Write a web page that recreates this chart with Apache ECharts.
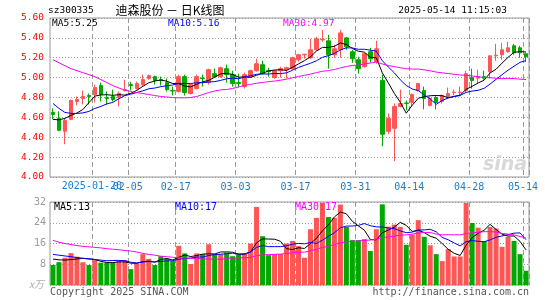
<!DOCTYPE html>
<html>
<head>
<meta charset="utf-8">
<script src="https://cdn.jsdelivr.net/npm/echarts@6/dist/echarts.min.js"></script>
<style>
html,body{margin:0;padding:0;background:#fff;}
#c{width:545px;height:300px;}
</style>
</head>
<body>
<div id="c"></div>
<script>
// ---- data ----
const dates = [
'2025-01-09','2025-01-10','2025-01-13','2025-01-14','2025-01-15','2025-01-16','2025-01-17',
'2025-01-20','2025-01-21','2025-01-22','2025-01-23','2025-01-24','2025-01-27',
'2025-02-05','2025-02-06','2025-02-07','2025-02-10','2025-02-11','2025-02-12','2025-02-13','2025-02-14',
'2025-02-17','2025-02-18','2025-02-19','2025-02-20','2025-02-21','2025-02-24','2025-02-25','2025-02-26','2025-02-27','2025-02-28',
'2025-03-03','2025-03-04','2025-03-05','2025-03-06','2025-03-07','2025-03-10','2025-03-11','2025-03-12','2025-03-13','2025-03-14',
'2025-03-17','2025-03-18','2025-03-19','2025-03-20','2025-03-21','2025-03-24','2025-03-25','2025-03-26','2025-03-27','2025-03-28',
'2025-03-31','2025-04-01','2025-04-02','2025-04-03','2025-04-07','2025-04-08','2025-04-09','2025-04-10','2025-04-11',
'2025-04-14','2025-04-15','2025-04-16','2025-04-17','2025-04-18','2025-04-21','2025-04-22','2025-04-23','2025-04-24','2025-04-25',
'2025-04-28','2025-04-29','2025-04-30','2025-05-06','2025-05-07','2025-05-08','2025-05-09','2025-05-12','2025-05-13','2025-05-14'
];
const opens = [
4.65,4.59,4.46,4.58,4.76,4.79,4.82,4.83,4.92,4.80,
4.81,4.80,4.87,4.93,4.89,4.93,4.99,5.01,4.98,4.95,
4.87,4.86,5.01,4.84,4.89,4.995,4.95,5.04,5.01,5.09,
5.03,4.95,4.91,5.01,5.07,5.13,5.07,5.00,5.07,5.08,
5.09,5.18,5.23,5.20,5.28,5.38,5.37,5.23,5.28,5.40,
5.26,5.18,5.11,5.26,5.16,4.97,4.46,4.49,4.71,4.745,
4.75,4.87,4.87,4.72,4.80,4.76,4.81,4.85,4.85,4.87,
5.00,4.995,5.01,5.06,5.22,5.23,5.26,5.32,5.30,5.24
];
const closes = [
4.63,4.47,4.57,4.77,4.78,4.81,4.81,4.90,4.83,4.79,
4.78,4.84,4.88,4.92,4.94,4.98,5.02,4.97,4.97,4.88,
4.865,5.01,4.85,4.93,5.01,4.99,5.08,5.01,5.10,5.03,
4.94,4.94,5.03,5.07,5.14,5.04,5.06,5.07,5.09,5.10,
5.20,5.23,5.235,5.28,5.39,5.385,5.23,5.29,5.45,5.31,
5.19,5.09,5.24,5.19,5.29,4.43,4.59,4.71,4.74,4.74,
4.83,4.94,4.79,4.79,4.75,4.82,4.84,4.855,4.855,5.04,
4.97,5.01,4.995,5.22,5.225,5.28,5.30,5.25,5.25,5.21
];
const lows = [
4.58,4.46,4.33,4.57,4.72,4.73,4.73,4.75,4.76,4.73,
4.76,4.71,4.86,4.87,4.88,4.91,4.98,4.93,4.92,4.86,
4.82,4.85,4.82,4.83,4.88,4.91,4.93,5.00,5.00,4.95,
4.91,4.90,4.89,5.00,5.06,5.03,5.01,4.99,5.00,4.99,
5.08,5.16,5.19,5.19,5.27,5.36,5.09,5.20,5.20,5.28,
5.15,5.04,5.10,5.15,5.14,4.31,4.43,4.16,4.70,4.67,
4.71,4.86,4.68,4.71,4.68,4.74,4.79,4.82,4.81,4.85,
4.89,4.94,4.98,4.99,5.17,5.18,5.25,5.23,5.20,5.16
];
const highs = [
4.69,4.66,4.59,4.78,4.81,4.87,4.84,4.93,4.95,4.86,
4.88,4.86,4.98,4.96,4.96,5.03,5.03,5.02,5.01,4.99,
4.91,5.03,5.03,4.94,5.03,5.03,5.09,5.09,5.11,5.13,
5.07,5.04,5.05,5.08,5.19,5.17,5.10,5.08,5.11,5.11,
5.21,5.24,5.24,5.39,5.41,5.48,5.43,5.33,5.48,5.41,
5.28,5.21,5.25,5.30,5.37,5.03,4.64,4.74,4.88,4.77,
4.84,4.94,4.91,4.81,4.82,4.83,4.90,4.88,4.91,5.07,
5.09,5.08,5.07,5.22,5.34,5.35,5.36,5.34,5.32,5.25
];
const volumes = [
7.7,8.8,10.5,12.3,10.9,8.8,7.7,9.6,8.6,8.6,
8.6,9.2,9.6,6.1,8.3,11.9,10.1,7.7,11.1,10.2,
9.2,15.1,12.2,8.1,12.2,11.9,15.7,11.9,11.9,12.5,
11.1,11.9,12.2,16.0,30.1,18.8,11.5,11.9,11.9,16.0,
17.0,15.0,10.5,21.5,25.9,31.7,26.2,25.9,31.0,22.4,
17.3,17.3,17.7,13.1,21.5,31.1,22.5,23.3,22.4,15.5,
19.5,25.0,18.6,15.3,11.9,9.2,13.8,11.0,11.0,31.6,
23.9,22.1,16.9,22.4,21.8,14.7,18.6,17.0,11.9,5.5
];
// moving-average values at the left edge (window reaches before the first day)
const priceMa5Start = [4.58,4.575,4.59,4.62];
const priceMa10Start = [4.74,4.69,4.65,4.64,4.64,4.645,4.66,4.69,4.71];
const priceMa30Start = [5.18,5.15,5.12,5.09,5.07,5.05,5.03,5.01,4.98,4.95,4.92,4.895,4.875,4.86,4.85,4.84,4.83,4.82,4.81,4.805,4.80,4.797,4.797,4.80,4.81,4.83,4.85,4.865,4.877];
const volMa5Start = [10.0,9.7,9.6,9.8];
const volMa10Start = [11.8,11.5,11.2,10.9,10.6,10.3,10.1,9.8,9.6];
const volMa30Start = [17.2,16.5,16.0,15.6,15.2,14.9,14.7,14.5,14.3,14.0,13.8,13.6,13.3,13.1,12.7,12.2,11.8,11.5,11.1,10.9,10.7,10.5,10.4,10.3,10.2,10.1,10.0,10.0,9.9];
const labelDates = ['2025-01-20','2025-02-05','2025-02-17','2025-03-03','2025-03-17','2025-03-31','2025-04-14','2025-04-28','2025-05-14'];
const priceTicks = [4.00,4.20,4.40,4.60,4.80,5.00,5.20,5.40,5.60];
const volTicks = [0,8,16,24,32];
const priceMaText = ['MA5:5.25','MA10:5.16','MA30:4.97'];
const volMaText = ['MA5:13','MA10:17','MA30:17'];
const stockCode = 'sz300335';
const chartTitle = '迪森股份 － 日K线图';
const stamp = '2025-05-14 11:15:03';

// ---- build ----
function movingAvg(vals, n, start){
  return vals.map(function(v,i){
    if(i < n-1) return start[i];
    let s = 0; for(let k=i-n+1;k<=i;k++) s += vals[k];
    return +(s/n).toFixed(4);
  });
}
const UP = '#ff5555', DOWN = '#00a800';
const MONO = '"DejaVu Sans Mono", monospace';
const DATECOL = '#1a7fd0';
const GRIDCOL = '#9a9a9a';
const candleData = dates.map((d,i)=>[opens[i],closes[i],lows[i],highs[i]]);
const volData = volumes.map((v,i)=>({value:v,itemStyle:{color: closes[i]>opens[i]?UP:DOWN}}));
const labelIdx = new Set(labelDates.map(d=>dates.indexOf(d)));
const firstLabelIdx = dates.indexOf(labelDates[0]);

function xAxisFor(g, showLabel){
  return {
    type:'category', gridIndex:g, data:dates, boundaryGap:true,
    axisLine:{show:false}, axisTick:{show:false},
    axisLabel:{show:showLabel, interval:(i)=>labelIdx.has(i) && i!==firstLabelIdx, margin:5, hideOverlap:false,
      color:DATECOL, fontFamily:MONO, fontSize:10, padding:[0,6,0,0],
      formatter:(v)=> v.slice(5)},
    splitLine:{show:true, interval:(i)=>labelIdx.has(i) && i>0,
      lineStyle:{color:GRIDCOL, type:[5,3], width:1}}
  };
}
const lineS = (name, data, color, xi) => ({
  type:'line', name, data, xAxisIndex:xi, yAxisIndex:xi, showSymbol:false, symbol:'none',
  lineStyle:{color, width:1}, itemStyle:{color}, silent:true, z:5
});

const txt = (text, x, y, fill, size, align, extra) => Object.assign({
  type:'text', silent:true, z:100,
  style:{text, x, y, fill, font: size+'px '+MONO, textAlign:align||'left', textVerticalAlign:'middle', align:align||'left', verticalAlign:'middle'}
}, extra||{});

const graphics = [
    txt(stockCode, 48, 11, '#000', 9.5, 'left'),
    {type:'text', silent:true, z:100, style:{text:chartTitle, x:170, y:10, fill:'#000', font:'12px "Noto Sans CJK SC", sans-serif', textAlign:'center', textVerticalAlign:'middle', align:'center', verticalAlign:'middle'}},
    txt(stamp, 507, 11, '#000', 9.5, 'right'),
    txt(priceMaText[0], 52, 23.5, '#000', 9.5, 'left'),
    txt(priceMaText[1], 168, 23.5, '#0000ff', 9.5, 'left'),
    txt(priceMaText[2], 283, 23.5, '#ff00ff', 9.5, 'left'),
    txt(volMaText[0], 54, 207, '#000', 10, 'left'),
    txt(volMaText[1], 175, 207, '#0000ff', 10, 'left'),
    txt(volMaText[2], 295, 207, '#ff00ff', 10, 'left'),
    {type:'text', silent:true, z:100, style:{text:'x万', x:29, y:284.5, fill:'#aaa', font:'italic 10px "Noto Sans CJK SC", sans-serif', textAlign:'left', textVerticalAlign:'middle', align:'left', verticalAlign:'middle'}},
    txt('Copyright 2025 SINA.COM', 50, 292.5, '#555', 10, 'left'),
    txt('http://finance.sina.com.cn', 529, 292.5, '#555', 10, 'right'),
    {type:'text', silent:true, z:1, style:{text:'sina', x:505, y:165, fill:'#d8d8d8', font:'italic bold 19px "DejaVu Sans", sans-serif', textAlign:'center', textVerticalAlign:'middle', align:'center', verticalAlign:'middle'}}
];

const option = {
  animation:false,
  backgroundColor:'#fff',
  grid:[
    {left:50, top:18, width:479, height:159, show:true, borderColor:'#999', borderWidth:1, backgroundColor:'transparent'},
    {left:50, top:202, width:479, height:83, show:true, borderColor:'#999', borderWidth:1, backgroundColor:'transparent'}
  ],
  xAxis:[xAxisFor(0,true), xAxisFor(1,false)],
  yAxis:[
    {type:'value', gridIndex:0, min:priceTicks[0], max:priceTicks[priceTicks.length-1], interval:0.2,
     axisLine:{show:false}, axisTick:{show:false},
     axisLabel:{color:'#ff0000', fontFamily:MONO, fontSize:9.5, margin:6, formatter:v=>v.toFixed(2)},
     splitLine:{show:true, lineStyle:{color:GRIDCOL, type:[1,2], width:1}}},
    {type:'value', gridIndex:1, min:volTicks[0], max:volTicks[volTicks.length-1], interval:8,
     axisLine:{show:false}, axisTick:{show:false},
     axisLabel:{color:'#9a9a9a', fontFamily:MONO, fontSize:10, margin:4, formatter:v=>v===0?'':String(v)},
     splitLine:{show:true, lineStyle:{color:GRIDCOL, type:[1,2], width:1}}}
  ],
  series:[
    {type:'candlestick', xAxisIndex:0, yAxisIndex:0, data:candleData, barWidth:4,
     itemStyle:{color:UP, color0:DOWN, borderColor:UP, borderColor0:DOWN, borderWidth:1}, silent:true},
    lineS('MA5', movingAvg(closes,5,priceMa5Start), '#000000', 0),
    lineS('MA10', movingAvg(closes,10,priceMa10Start), '#0000ff', 0),
    lineS('MA30', movingAvg(closes,30,priceMa30Start), '#ff00ff', 0),
    {type:'bar', xAxisIndex:1, yAxisIndex:1, data:volData, barWidth:5, silent:true},
    lineS('VMA5', movingAvg(volumes,5,volMa5Start), '#000000', 1),
    lineS('VMA10', movingAvg(volumes,10,volMa10Start), '#0000ff', 1),
    lineS('VMA30', movingAvg(volumes,30,volMa30Start), '#ff00ff', 1)
  ],
  graphic:graphics
};
const chart = echarts.init(document.getElementById('c'), null, {renderer:'canvas'});
chart.setOption(option);
// first date label (full date) placed at the slot boundary of its category, like the others
const px = chart.convertToPixel({xAxisIndex:0}, labelDates[0]);
const bandHalf = 479 / dates.length / 2;
graphics.push(txt(labelDates[0], px - bandHalf, 186.5, DATECOL, 10, 'center'));
chart.setOption({graphic:graphics});
</script>
</body>
</html>
